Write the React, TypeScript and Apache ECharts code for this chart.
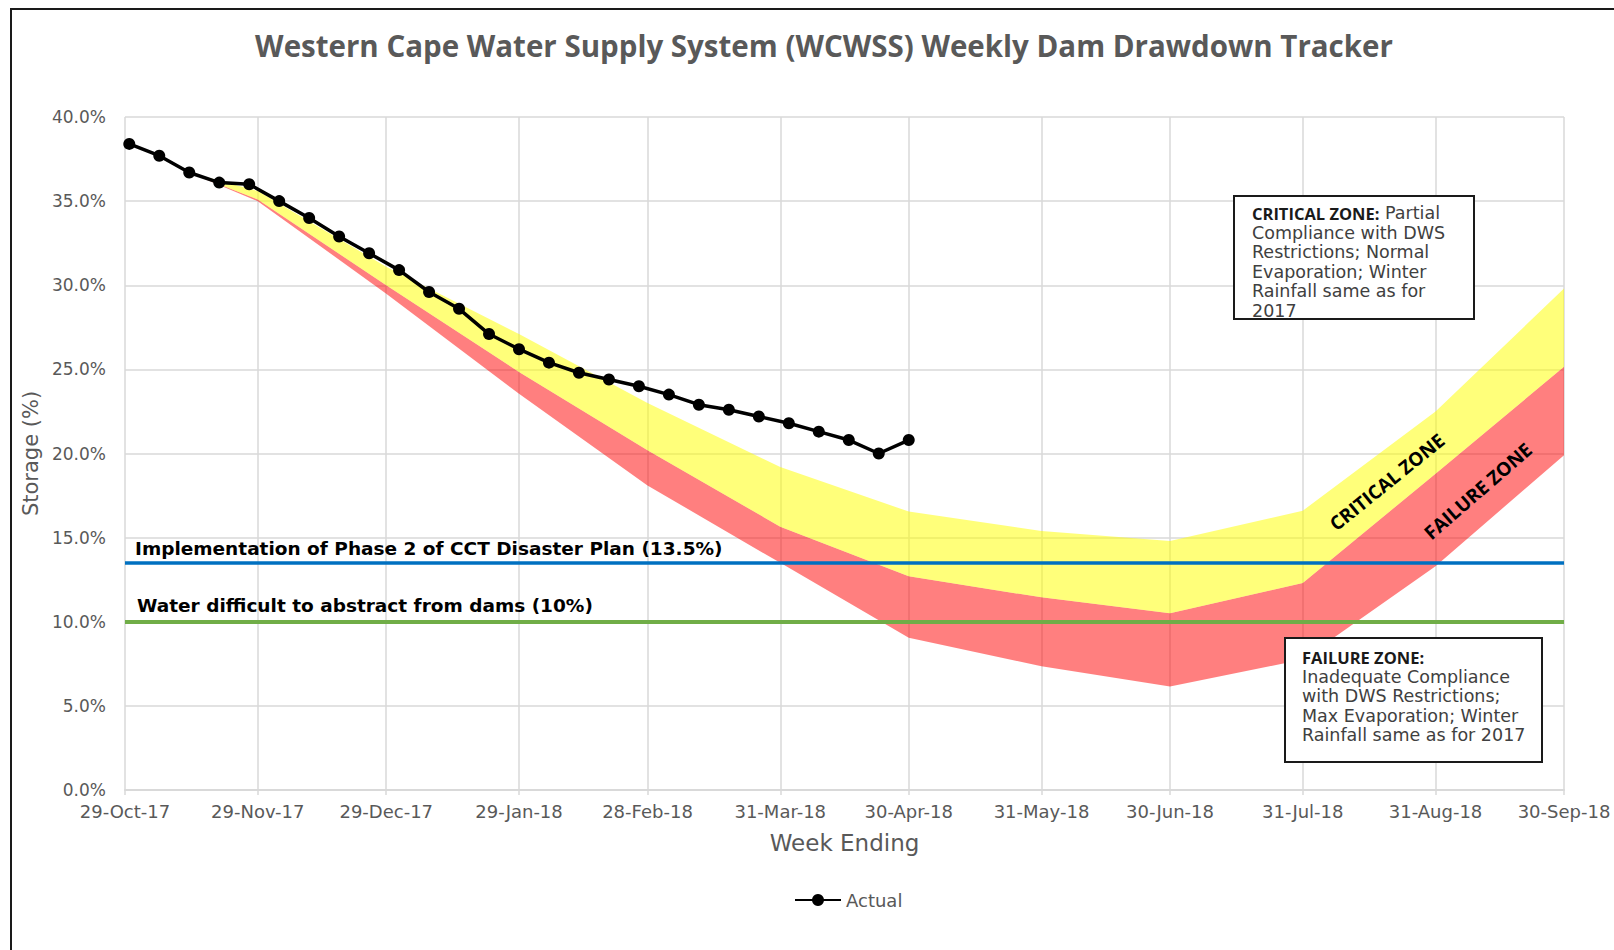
import React, { useEffect, useRef } from 'react';
import * as echarts from 'echarts';

// ---- Data ----
const weekEnding = [
  '2017-10-30', '2017-11-06', '2017-11-13', '2017-11-20', '2017-11-27', '2017-12-04', '2017-12-11',
  '2017-12-18', '2017-12-25', '2018-01-01', '2018-01-08', '2018-01-15', '2018-01-22', '2018-01-29',
  '2018-02-05', '2018-02-12', '2018-02-19', '2018-02-26', '2018-03-05', '2018-03-12', '2018-03-19',
  '2018-03-26', '2018-04-02', '2018-04-09', '2018-04-16', '2018-04-23', '2018-04-30',
];
const actual = [
  38.4, 37.7, 36.7, 36.1, 36.0, 35.0, 34.0, 32.9, 31.9, 30.9, 29.6, 28.6, 27.1, 26.2,
  25.4, 24.8, 24.4, 24.0, 23.5, 22.9, 22.6, 22.2, 21.8, 21.3, 20.8, 20.0, 20.8,
];

const bandDates = [
  '2017-11-13', '2017-11-29', '2017-12-29', '2018-01-29', '2018-02-28', '2018-03-31',
  '2018-04-30', '2018-05-31', '2018-06-30', '2018-07-31', '2018-08-31', '2018-09-30',
];
const criticalUpper = [36.7, 35.6, 31.1, 27.1, 23.0, 19.2, 16.55, 15.4, 14.8, 16.6, 22.5, 29.8];
const criticalLower = [36.7, 35.1, 30.0, 24.85, 20.2, 15.65, 12.7, 11.45, 10.5, 12.3, 18.8, 25.15];
const failureLower = [36.7, 35.0, 29.5, 23.55, 18.1, 13.5, 9.05, 7.35, 6.15, 7.75, 13.3, 19.9];

const tickDates = [
  '2017-10-29', '2017-11-29', '2017-12-29', '2018-01-29', '2018-02-28', '2018-03-31',
  '2018-04-30', '2018-05-31', '2018-06-30', '2018-07-31', '2018-08-31', '2018-09-30',
];
const tickLabels = [
  '29-Oct-17', '29-Nov-17', '29-Dec-17', '29-Jan-18', '28-Feb-18', '31-Mar-18',
  '30-Apr-18', '31-May-18', '30-Jun-18', '31-Jul-18', '31-Aug-18', '30-Sep-18',
];

const phase2Level = 13.5;
const abstractLevel = 10;

const TITLE = 'Western Cape Water Supply System (WCWSS) Weekly Dam Drawdown Tracker';
const PHASE2_LABEL = 'Implementation of Phase 2 of CCT Disaster Plan (13.5%)';
const ABSTRACT_LABEL = 'Water difficult to abstract from dams (10%)';

const utc = (s: string) => {
  const [y, m, d] = s.split('-').map(Number);
  return Date.UTC(y, m - 1, d);
};
// days since the first axis date
const day = (s: string) => Math.round((utc(s) - utc(tickDates[0])) / 86400000);

const BODY_FONT = 'DejaVu Sans';
const BOLD_FONT = 'Open Sans';
const GREY = '#595959';

export default function App() {
  const ref = useRef<HTMLDivElement>(null);

  useEffect(() => {
    if (!ref.current) return;
    const chart = echarts.init(ref.current, null, { renderer: 'svg' });
    const tickDays = tickDates.map(day);
    const bandDays = bandDates.map(day);

    const labelFor = (v: number) => {
      const i = tickDays.findIndex((t) => Math.abs(t - v) < 0.01);
      return i >= 0 ? tickLabels[i] : '';
    };

    const bandSeries = (name: string, lower: number[], upper: number[], fill: string) => ({
      name,
      type: 'custom',
      coordinateSystem: 'cartesian2d',
      silent: true,
      z: 1,
      dimensions: ['x', 'lo', 'hi'],
      encode: { x: 0, y: [1, 2] },
      data: bandDays.map((d, i) => [d, lower[i], upper[i]]),
      renderItem: (params: any, api: any) => {
        if (params.dataIndex !== 0) return null;
        const pts: number[][] = [];
        for (let i = 0; i < bandDays.length; i++) pts.push(api.coord([bandDays[i], upper[i]]));
        for (let i = bandDays.length - 1; i >= 0; i--) pts.push(api.coord([bandDays[i], lower[i]]));
        return { type: 'polygon', shape: { points: pts }, style: { fill } };
      },
    });

    const option: any = {
      animation: false,
      backgroundColor: '#ffffff',
      title: {
        text: TITLE,
        left: 819,
        textAlign: 'center',
        top: 25,
        textStyle: { fontFamily: BOLD_FONT, fontWeight: 'bold', fontSize: 29.5, color: GREY },
      },
      legend: {
        data: ['Actual'],
        left: 789,
        top: 886,
        itemWidth: 46,
        itemHeight: 15,
        textStyle: { fontFamily: BODY_FONT, fontSize: 18, color: GREY },
      },
      grid: { left: 125, right: 50, top: 117, bottom: 160, outerBoundsMode: 'none', containLabel: false },
      xAxis: {
        type: 'value',
        min: tickDays[0],
        max: tickDays[tickDays.length - 1],
        name: 'Week Ending',
        nameLocation: 'middle',
        nameGap: 41,
        nameTextStyle: { fontFamily: BODY_FONT, fontSize: 23, color: GREY },
        axisLine: { show: true, lineStyle: { color: '#D9D9D9', width: 2 } },
        axisTick: { show: true, length: 5, customValues: tickDays, lineStyle: { color: '#D9D9D9', width: 1.5 } },
        axisLabel: {
          customValues: tickDays,
          formatter: (v: number) => labelFor(v),
          fontFamily: BODY_FONT,
          fontSize: 18,
          color: GREY,
          margin: 12,
          hideOverlap: false,
          showMinLabel: true,
          showMaxLabel: true,
        },
        splitLine: { show: true, lineStyle: { color: '#D9D9D9', width: 1.5 } },
      },
      yAxis: {
        type: 'value',
        min: 0,
        max: 40,
        interval: 5,
        name: 'Storage (%)',
        nameLocation: 'middle',
        nameGap: 82,
        nameTextStyle: { fontFamily: BODY_FONT, fontSize: 21, color: GREY },
        axisLine: { show: false },
        axisTick: { show: false },
        axisLabel: {
          formatter: (v: number) => v.toFixed(1) + '%',
          fontFamily: BODY_FONT,
          fontSize: 17,
          color: GREY,
          margin: 19,
        },
        splitLine: { show: true, lineStyle: { color: '#D9D9D9', width: 1.5 } },
      },
      series: [
        bandSeries('Failure Zone', failureLower, criticalLower, 'rgba(255,0,0,0.5)'),
        bandSeries('Critical Zone', criticalLower, criticalUpper, 'rgba(255,255,0,0.52)'),
        {
          name: 'Actual',
          type: 'line',
          data: weekEnding.map((d, i) => [day(d), actual[i]]),
          symbol: 'circle',
          symbolSize: 12,
          lineStyle: { color: '#000', width: 3.5 },
          itemStyle: { color: '#000' },
          z: 10,
          markLine: {
            silent: true,
            symbol: 'none',
            animation: false,
            z: 5,
            data: [
              {
                yAxis: phase2Level,
                lineStyle: { color: '#0070C0', width: 3.5, type: 'solid' },
                label: {
                  show: true,
                  position: 'insideStartTop',
                  formatter: PHASE2_LABEL,
                  fontFamily: BODY_FONT,
                  fontWeight: 'bold',
                  fontSize: 18.5,
                  color: '#000',
                  distance: [10, 5],
                },
              },
              {
                yAxis: abstractLevel,
                lineStyle: { color: '#70AD47', width: 4, type: 'solid' },
                label: {
                  show: true,
                  position: 'insideStartTop',
                  formatter: ABSTRACT_LABEL,
                  fontFamily: BODY_FONT,
                  fontWeight: 'bold',
                  fontSize: 18.5,
                  color: '#000',
                  distance: [12, 7],
                },
              },
            ],
          },
        },
      ],
      graphic: [
        {
          type: 'polyline',
          shape: { points: [[11, 950], [11, 9], [1614, 9]] },
          style: { stroke: '#1a1a1a', lineWidth: 2, fill: 'none' },
          z: 100,
        },
        {
          type: 'rect',
          shape: { x: 1234, y: 196, width: 240, height: 123 },
          style: { fill: '#ffffff', stroke: 'none' },
          z: 100,
        },
        {
          type: 'text',
          x: 1252,
          y: 203.5,
          z: 101,
          style: {
            text:
              '{h|CRITICAL ZONE:}{n| Partial}\n{n|Compliance with DWS}\n{n|Restrictions; Normal}\n{n|Evaporation; Winter}\n{n|Rainfall same as for}\n{n|2017}',
            align: 'left',
            verticalAlign: 'top',
            rich: {
              h: { fontFamily: BOLD_FONT, fontWeight: 'bold', fontSize: 16.5, fill: '#1a1a1a', lineHeight: 19.5 },
              n: { fontFamily: BODY_FONT, fontSize: 17.5, fill: '#404040', lineHeight: 19.5 },
            },
          },
        },
        {
          type: 'rect',
          shape: { x: 1234, y: 196, width: 240, height: 123 },
          style: { fill: 'none', stroke: '#1a1a1a', lineWidth: 2 },
          z: 102,
        },
        {
          type: 'rect',
          shape: { x: 1285, y: 638, width: 257, height: 124 },
          style: { fill: '#ffffff', stroke: '#1a1a1a', lineWidth: 2 },
          z: 100,
        },
        {
          type: 'text',
          x: 1302,
          y: 647.5,
          z: 101,
          style: {
            text:
              '{h|FAILURE ZONE:}\n{n|Inadequate Compliance}\n{n|with DWS Restrictions;}\n{n|Max Evaporation; Winter}\n{n|Rainfall same as for 2017}',
            align: 'left',
            verticalAlign: 'top',
            rich: {
              h: { fontFamily: BOLD_FONT, fontWeight: 'bold', fontSize: 16.5, fill: '#1a1a1a', lineHeight: 19.5 },
              n: { fontFamily: BODY_FONT, fontSize: 17.5, fill: '#404040', lineHeight: 19.5 },
            },
          },
        },
        {
          type: 'text',
          x: 1387,
          y: 482,
          rotation: (39 * Math.PI) / 180,
          z: 50,
          style: {
            text: 'CRITICAL ZONE',
            align: 'center',
            verticalAlign: 'middle',
            fontFamily: BOLD_FONT,
            fontWeight: 'bold',
            fontSize: 19,
            fill: '#000',
          },
        },
        {
          type: 'text',
          x: 1478,
          y: 491,
          rotation: (41 * Math.PI) / 180,
          z: 50,
          style: {
            text: 'FAILURE ZONE',
            align: 'center',
            verticalAlign: 'middle',
            fontFamily: BOLD_FONT,
            fontWeight: 'bold',
            fontSize: 19,
            fill: '#000',
          },
        },
      ],
    };

    chart.setOption(option);
    return () => chart.dispose();
  }, []);

  return (
    <div
      ref={ref}
      style={{ position: 'fixed', left: 0, top: 0, width: 1614, height: 950, background: '#fff' }}
    />
  );
}
